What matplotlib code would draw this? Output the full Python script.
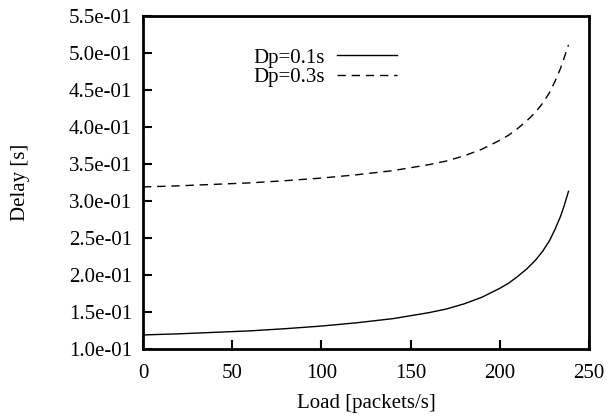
import matplotlib
matplotlib.use("Agg")
import matplotlib.pyplot as plt

load = [0, 20, 40, 60, 80, 100, 120, 140, 160, 170, 180, 190, 200, 205, 210, 215, 220,
        224, 228, 231, 234, 236, 238.5]
delay_01 = [0.119, 0.1205, 0.1225, 0.1245, 0.1275, 0.131, 0.1355, 0.141, 0.149, 0.154,
            0.161, 0.170, 0.182, 0.189, 0.198, 0.208, 0.220, 0.232, 0.247, 0.262,
            0.279, 0.293, 0.313]
delay_03 = [0.319, 0.3205, 0.3225, 0.3245, 0.3275, 0.331, 0.3355, 0.341, 0.349, 0.354,
            0.361, 0.370, 0.382, 0.389, 0.398, 0.408, 0.420, 0.432, 0.447, 0.462,
            0.479, 0.493, 0.511]
labels = ["Dp=0.1s", "Dp=0.3s"]

plt.rcParams["font.family"] = ["Liberation Serif", "DejaVu Serif"]
plt.rcParams["font.size"] = 15

fig = plt.figure(figsize=(6.08, 4.17), dpi=100)
ax = fig.add_axes([143 / 608, 1 - 349 / 417, 446 / 608, 333 / 417])

ax.plot(load, delay_01, color="black", lw=1.0, label=labels[0])
ax.plot(load, delay_03, color="black", lw=1.0, dashes=(6, 4.2), label=labels[1])

ax.set_xlim(0, 250)
ax.set_ylim(0.1, 0.55)
ax.set_xticks([0, 50, 100, 150, 200, 250])
ax.set_yticks([0.1, 0.15, 0.2, 0.25, 0.3, 0.35, 0.4, 0.45, 0.5, 0.55])
ax.set_yticklabels(["%.1e" % v for v in ax.get_yticks()])
ax.tick_params(direction="in", length=6.5, width=1.5, top=False, right=False, pad=8)
ax.tick_params(axis="x", pad=11)
for s in ax.spines.values():
    s.set_linewidth(2.0)

ax.set_xlabel("Load [packets/s]", labelpad=8)
ax.set_ylabel("Delay [s]", labelpad=28)

ax.legend(loc="upper left", bbox_to_anchor=(253 / 608, 1 - 48 / 417),
          bbox_transform=fig.transFigure, frameon=False, markerfirst=False,
          handlelength=2.9, handletextpad=0.6, labelspacing=0.0,
          borderpad=0, borderaxespad=0)

fig.savefig("out.png", dpi=100)
